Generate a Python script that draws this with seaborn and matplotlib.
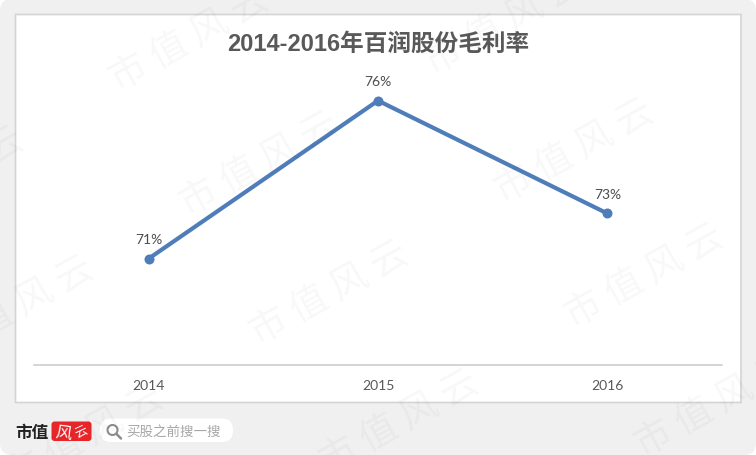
import pandas as pd
import matplotlib
matplotlib.use('Agg')
import matplotlib.pyplot as plt
from matplotlib.patches import FancyBboxPatch, Circle
from matplotlib.lines import Line2D
from matplotlib.transforms import IdentityTransform
import seaborn as sns

# data
years = ['2014', '2015', '2016']
margin = [71.35, 76.35, 72.78]
labels = ['71%', '76%', '73%']
title = '2014-2016年百润股份毛利率'

# watermark centres in pixels
mark_x = [190, 505, -55, 260, 575, 15, 330, 645, 85, 400, 715]
mark_y = [40, 24, 180, 165, 152, 309, 294, 277, 438, 423, 406]

W, H = 756, 456
sns.set_theme(style='white')
plt.rcParams['font.family'] = ['Lato', 'Noto Sans CJK SC', 'DejaVu Sans']

fig = plt.figure(figsize=(W / 100, H / 100), dpi=100, facecolor='white')


def fx(x):
    return x / W


def fy(y):
    return 1 - y / H


def box(x0, y0, x1, y1, color, edge='none', r=0, z=0, lw=1):
    # rounded box given in picture pixels
    p = FancyBboxPatch((x0, H - y1), x1 - x0, y1 - y0,
                       boxstyle=f'round,pad=0,rounding_size={r}',
                       fc=color, ec=edge, lw=lw, zorder=z)
    p.set_transform(IdentityTransform())
    fig.add_artist(p)
    return p


# page background and white panel
box(0, 0, W, H, '#f0f0f0', r=12, z=-3)
box(15.5, 15.5, 741, 403.5, 'white', edge='#d4d4d4', z=-2, lw=1.2)

# main chart
ax = fig.add_axes([fx(34), fy(365.5), fx(688), (365.5 - 49.5) / H])
ax.patch.set_alpha(0)
df = pd.DataFrame({'year': years, 'margin': margin})
sns.lineplot(data=df, x='year', y='margin', ax=ax, color='#4f7dba', lw=3,
             marker='o', markersize=7.2, markeredgewidth=0)
ax.set_xlim(-0.5, 2.5)
ax.set_ylim(68, 78)
ax.set_xlabel('')
ax.set_ylabel('')
ax.set_yticks([])
ax.tick_params(axis='x', length=0, pad=10.5, labelsize=10, labelcolor='#595959')
for s in ['top', 'left', 'right']:
    ax.spines[s].set_visible(False)
ax.spines['bottom'].set_color('#c9c9c9')
ax.spines['bottom'].set_linewidth(1.1)

for i, lab in enumerate(labels):
    ax.annotate(lab, (i, margin[i]), xytext=(0, 9.5), textcoords='offset points',
                ha='center', va='bottom', fontsize=10, color='#4d4d4d')

fig.text(fx(378), fy(44.5), title, ha='center', va='center', fontsize=17,
         fontweight='bold', color='#595959',
         family=['Liberation Sans', 'Noto Sans CJK SC'])

# footer logo
fig.text(fx(15), fy(433), '市值', ha='left', va='center', fontsize=12,
         fontweight='bold', color='#222222', family=['Noto Sans CJK SC'])
box(51.5, 422.5, 91.5, 442, '#e8262a', r=3, z=2)
fig.text(fx(63), fy(433.5), '风', ha='center', va='center', fontsize=12,
         rotation=-8, color='white', family=['Noto Sans CJK SC'], zorder=3)
fig.text(fx(81), fy(432.5), '云', ha='center', va='center', fontsize=9,
         rotation=25, color='white', family=['Noto Sans CJK SC'], zorder=3)

# search pill
box(100, 419.5, 233, 443, 'white', r=11, z=1)
fig.add_artist(Circle((112.5, H - 431), 5, fc='none', ec='#8c8c8c', lw=1.5,
                      transform=IdentityTransform(), zorder=3))
fig.add_artist(Line2D([116.5, 121], [H - 435, H - 439.5], color='#8c8c8c', lw=1.8,
                      transform=IdentityTransform(), zorder=3))
fig.text(fx(126), fy(432), '买股之前搜一搜', ha='left', va='center', fontsize=9.7,
         color='#a6a6a6', family=['Noto Sans CJK SC'], zorder=3)

# watermark on top of everything
for x, y in zip(mark_x, mark_y):
    fig.text(fx(x), fy(y), '市 值 风 云', ha='center', va='center', rotation=29,
             rotation_mode='anchor', fontsize=27, color='black', alpha=0.033,
             family=['Noto Sans CJK SC'], zorder=10)

fig.savefig('out.png', dpi=100)
